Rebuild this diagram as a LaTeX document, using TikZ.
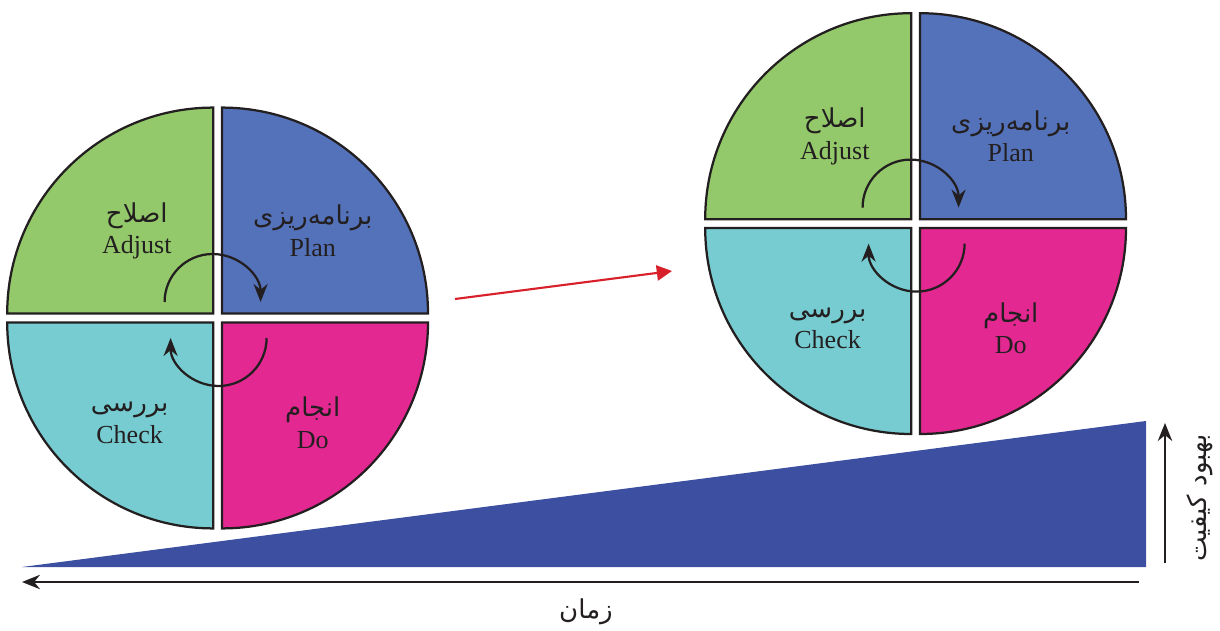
\documentclass[tikz,border=0pt]{standalone}
\usepackage{fontspec}
\setmainfont{Liberation Serif}
\newfontfamily\farsi[Script=Arabic]{DejaVu Sans}
\TeXXeTstate=1
\usetikzlibrary{calc,arrows.meta}
\definecolor{planc}{RGB}{84,114,185}
\definecolor{doc}{RGB}{227,40,145}
\definecolor{checkc}{RGB}{118,204,208}
\definecolor{adjustc}{RGB}{147,201,106}
\definecolor{rampc}{RGB}{60,79,160}
\definecolor{edgec}{RGB}{35,31,32}
\definecolor{arrowred}{RGB}{215,32,42}
\newcommand{\fa}[1]{{\farsi\beginR #1\endR}}

\begin{document}
\begin{tikzpicture}[
    quad/.style={draw=edgec, line width=1.6pt},
    turn/.style={draw=edgec, line width=1.6pt, -{Stealth[length=4.5mm,width=3.5mm]}},
    axis/.style={draw=edgec, line width=1.6pt, -{Stealth[length=4.5mm,width=3.6mm]}},
    lbl/.style={align=center, text=edgec, font=\fontsize{18.5}{22.5}\selectfont}]
    \useasboundingbox (0,0) rectangle (30.5,15.75);
    % the two PDCA wheels
    \foreach \n/\cx/\cy in {L/5.44/7.8, R/22.89/10.16} {
        \coordinate (\n) at (\cx,\cy);
        \foreach \a/\col in {0/planc, 90/adjustc, 180/checkc, 270/doc}
            \filldraw[quad, fill=\col] ($(\n)+(\a+45:0.156)$) -- ++(\a:5.15)
                arc[start angle=\a, end angle=\a+90, radius=5.15] -- cycle;
        \node[lbl] (adjust-\n) at ($(\n)+(-2.02,2.18)$) {\fa{اصلاح}\\Adjust};
        \node[lbl] (plan-\n) at ($(\n)+(2.38,2.18)$) {\fa{برنامه‌ریزی}\\Plan};
        \node[lbl] (check-\n) at ($(\n)+(-2.2,-2.62)$) {\fa{بررسی}\\Check};
        \node[lbl] (do-\n) at ($(\n)+(2.38,-2.62)$) {\fa{انجام}\\Do};
        \draw[turn] ($(\n)+(-1.325,0.4)$) arc[start angle=180, end angle=0, radius=1.2];
        \draw[turn] ($(\n)+(1.225,-0.5)$) arc[start angle=0, end angle=-180, radius=1.2];
    }
    % move to the next wheel
    \coordinate (move-a) at (11.375,8.275);
    \coordinate (move-b) at (16.8,8.975);
    \draw[line width=1.5pt, arrowred, -{Triangle[length=3.8mm,width=3.8mm]}] (move-a) -- (move-b);
    % quality ramp
    \coordinate (T0) at (0.55,1.575);
    \coordinate (T1) at (28.65,1.575);
    \coordinate (T2) at (28.65,5.225);
    \fill[rampc] (T0) -- (T1) -- (T2) -- cycle;
    % axes
    \coordinate (time-a) at (28.475,1.2);
    \coordinate (time-b) at (0.55,1.2);
    \draw[axis] (time-a) -- (time-b);
    \node[lbl] (time) at (14.65,0.45) {\fa{زمان}};
    \coordinate (qual-a) at (29.125,1.675);
    \coordinate (qual-b) at (29.125,5.175);
    \draw[axis] (qual-a) -- (qual-b);
    \node[lbl, rotate=90] (quality) at (30.0,3.3) {\fa{بهبود کیفیت}};
\end{tikzpicture}
\end{document}
